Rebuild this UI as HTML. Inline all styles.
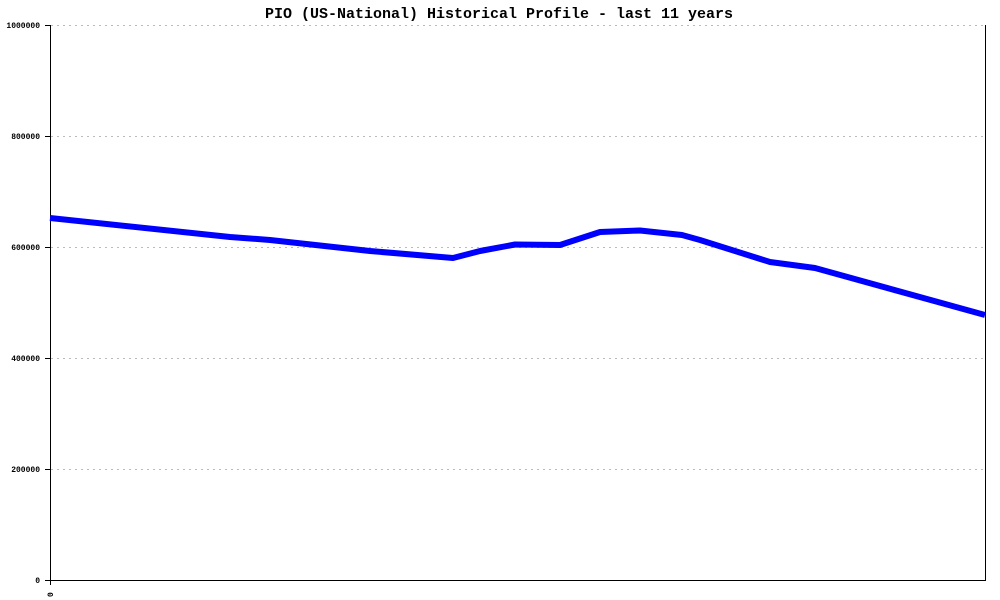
<!DOCTYPE html>
<html><head><style>body{margin:0;background:#fff}svg{display:block}</style></head>
<body>
<svg width="1000" height="600" xmlns="http://www.w3.org/2000/svg" font-family="Liberation Mono, monospace">
<rect width="1000" height="600" fill="#fff"/>
<text x="499" y="18" text-anchor="middle" font-size="15" font-weight="bold" fill="#000" textLength="468" lengthAdjust="spacingAndGlyphs">PIO (US-National) Historical Profile - last 11 years</text>
<g stroke="#bbb" stroke-dasharray="2,4" stroke-width="1">
<line x1="51" y1="25.5" x2="984" y2="25.5"/>
<line x1="51" y1="136.5" x2="984" y2="136.5"/>
<line x1="51" y1="247.5" x2="984" y2="247.5"/>
<line x1="51" y1="358.5" x2="984" y2="358.5"/>
<line x1="51" y1="469.5" x2="984" y2="469.5"/>
</g>
<g stroke="#000" stroke-width="1">
<line x1="50.5" y1="25" x2="50.5" y2="581"/>
<line x1="985.5" y1="25" x2="985.5" y2="581"/>
<line x1="45" y1="580.5" x2="986" y2="580.5"/>
<line x1="45" y1="25.5" x2="50" y2="25.5"/>
<line x1="45" y1="136.5" x2="50" y2="136.5"/>
<line x1="45" y1="247.5" x2="50" y2="247.5"/>
<line x1="45" y1="358.5" x2="50" y2="358.5"/>
<line x1="45" y1="469.5" x2="50" y2="469.5"/>
<line x1="50.5" y1="580" x2="50.5" y2="585"/>
</g>
<g font-size="8" text-anchor="end" fill="#000" font-weight="bold">
<text x="40" y="28">1000000</text>
<text x="40" y="139">800000</text>
<text x="40" y="250">600000</text>
<text x="40" y="361">400000</text>
<text x="40" y="472">200000</text>
<text x="40" y="583">0</text>
</g>
<text x="0" y="0" font-size="8" font-weight="bold" transform="translate(53,597) rotate(-90)">0</text>
<polyline fill="none" stroke="#0000ff" stroke-width="6" stroke-linejoin="round"
points="50,218 230,237 270,240 370,251 453,258 480,251 515,244.5 560,245 600,232 640,230.5 682,235 700,240 770,262 815,268 985,315"/>
</svg>
</body></html>
